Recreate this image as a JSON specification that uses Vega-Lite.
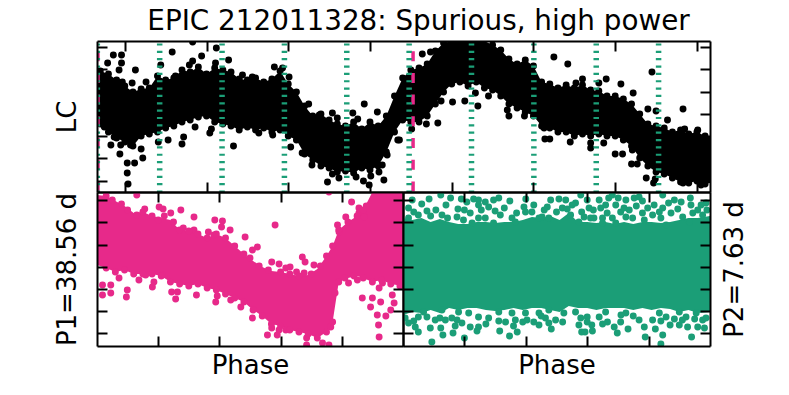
{"$schema":"https://vega.github.io/schema/vega-lite/v6.json","padding":{"left":53,"top":8,"right":40,"bottom":10},"spacing":0,"bounds":"flush",
"config":{"view":{"stroke":null},"axis":{"domain":true,"domainColor":"black","domainWidth":2,"ticks":true,"tickColor":"black","tickWidth":2,"tickSize":-10,"labels":false,"grid":false,"titleFont":"DejaVu Sans","titleFontSize":26,"titleFontWeight":"normal","titleColor":"black"}},
"datasets":{
"pink_transits":[{"t":6.72},{"t":45.27}],
"green_transits":[{"t":6.64},{"t":14.27},{"t":21.9},{"t":29.53},{"t":37.16},{"t":44.79},{"t":52.42},{"t":60.05},{"t":67.68},{"t":75.31}],
"lc_band":[{"t":6.6,"hi":122,"lo":70},{"t":7,"hi":121,"lo":68},{"t":8,"hi":118,"lo":60},{"t":9,"hi":112,"lo":54},{"t":10,"hi":106,"lo":50},{"t":11,"hi":100,"lo":46},{"t":12,"hi":103,"lo":56},{"t":13,"hi":104,"lo":58},{"t":14,"hi":116,"lo":60},{"t":15,"hi":112,"lo":64},{"t":16,"hi":114,"lo":66},{"t":17,"hi":122,"lo":70},{"t":18,"hi":120,"lo":72},{"t":19,"hi":125,"lo":75},{"t":20,"hi":118,"lo":76},{"t":21,"hi":124,"lo":70},{"t":22,"hi":122,"lo":68},{"t":23,"hi":120,"lo":66},{"t":24,"hi":113,"lo":62},{"t":25,"hi":112,"lo":65},{"t":26,"hi":114,"lo":62},{"t":27,"hi":110,"lo":64},{"t":28,"hi":113,"lo":60},{"t":29,"hi":121,"lo":62},{"t":30,"hi":108,"lo":56},{"t":31,"hi":100,"lo":52},{"t":32,"hi":86,"lo":38},{"t":33,"hi":76,"lo":32},{"t":34,"hi":78,"lo":26},{"t":35,"hi":72,"lo":24},{"t":36,"hi":68,"lo":20},{"t":37,"hi":66,"lo":21},{"t":38,"hi":70,"lo":19},{"t":39,"hi":63,"lo":24},{"t":40,"hi":70,"lo":22},{"t":41,"hi":66,"lo":26},{"t":42,"hi":76,"lo":40},{"t":43,"hi":96,"lo":60},{"t":44,"hi":114,"lo":72},{"t":45,"hi":122,"lo":70},{"t":46,"hi":124,"lo":70},{"t":47,"hi":128,"lo":76},{"t":48,"hi":141,"lo":88},{"t":49,"hi":149,"lo":100},{"t":50,"hi":151,"lo":108},{"t":51,"hi":151,"lo":110},{"t":52,"hi":151,"lo":106},{"t":53,"hi":151,"lo":110},{"t":54,"hi":151,"lo":104},{"t":55,"hi":147,"lo":102},{"t":56,"hi":142,"lo":96},{"t":57,"hi":133,"lo":88},{"t":58,"hi":128,"lo":84},{"t":59,"hi":132,"lo":80},{"t":60,"hi":126,"lo":76},{"t":61,"hi":110,"lo":66},{"t":62,"hi":108,"lo":64},{"t":63,"hi":104,"lo":60},{"t":64,"hi":107,"lo":60},{"t":65,"hi":104,"lo":56},{"t":66,"hi":107,"lo":58},{"t":67,"hi":102,"lo":56},{"t":68,"hi":101,"lo":58},{"t":69,"hi":96,"lo":56},{"t":70,"hi":96,"lo":56},{"t":71,"hi":93,"lo":52},{"t":72,"hi":88,"lo":46},{"t":73,"hi":78,"lo":34},{"t":74,"hi":68,"lo":26},{"t":75,"hi":66,"lo":20},{"t":76,"hi":64,"lo":18},{"t":77,"hi":60,"lo":14},{"t":78,"hi":62,"lo":10},{"t":79,"hi":58,"lo":9},{"t":80,"hi":60,"lo":11},{"t":81,"hi":56,"lo":8},{"t":81.6,"hi":55,"lo":9}],
"lc":[{"t":18.3,"f":150},{"t":21.2,"f":144},{"t":15.8,"f":140},{"t":8.6,"f":137},{"t":9.6,"f":137},{"t":19.4,"f":136},{"t":7.9,"f":129},{"t":9.6,"f":129},{"t":11.3,"f":122},{"t":9.3,"f":122},{"t":18.3,"f":131},{"t":14.4,"f":127},{"t":28.3,"f":125},{"t":22.7,"f":132},{"t":21.1,"f":129},{"t":17.9,"f":127},{"t":29.3,"f":124},{"t":30.1,"f":115},{"t":25.6,"f":115},{"t":24.4,"f":117},{"t":10.9,"f":109},{"t":12.6,"f":110},{"t":9.7,"f":110},{"t":16.2,"f":116},{"t":32.5,"f":88},{"t":39.3,"f":88},{"t":35.4,"f":79},{"t":37.9,"f":79},{"t":40.9,"f":80},{"t":38.5,"f":73},{"t":36,"f":74},{"t":33.8,"f":77},{"t":43.4,"f":52},{"t":23.3,"f":46},{"t":8.3,"f":47},{"t":17,"f":48},{"t":17.2,"f":55},{"t":18.6,"f":65},{"t":20.4,"f":59},{"t":20.6,"f":63},{"t":26.4,"f":59},{"t":28.1,"f":57},{"t":30.1,"f":58},{"t":30.3,"f":45},{"t":31.7,"f":39},{"t":32.9,"f":27},{"t":34.8,"f":10},{"t":36.2,"f":14},{"t":35.4,"f":18},{"t":38.3,"f":15},{"t":39.2,"f":11},{"t":39.9,"f":7},{"t":40.1,"f":16},{"t":41.7,"f":12},{"t":41.1,"f":20},{"t":10.4,"f":8},{"t":10.3,"f":19},{"t":11.2,"f":29},{"t":12.2,"f":34},{"t":9.4,"f":38},{"t":12,"f":43},{"t":14.1,"f":50},{"t":15.3,"f":52},{"t":7.5,"f":65},{"t":8.7,"f":55},{"t":9.5,"f":47},{"t":10.7,"f":47},{"t":10.3,"f":29},{"t":42.1,"f":37},{"t":41.5,"f":27},{"t":40.1,"f":34},{"t":37.5,"f":27},{"t":34.2,"f":29},
{"t":46.4,"f":138},{"t":47.4,"f":140},{"t":62.5,"f":135},{"t":64.2,"f":128},{"t":74.5,"f":120},{"t":66,"f":113},{"t":68.9,"f":113},{"t":70.7,"f":108},{"t":68,"f":109},{"t":65.2,"f":109},{"t":72.2,"f":99},{"t":78.3,"f":83},{"t":74,"f":83},{"t":75,"f":81},{"t":76.4,"f":72},{"t":48.7,"f":91},{"t":50.1,"f":90},{"t":51.6,"f":91},{"t":53.2,"f":86},{"t":48.3,"f":69},{"t":46.9,"f":68},{"t":45.1,"f":63},{"t":56.8,"f":82},{"t":57,"f":76},{"t":58.9,"f":76},{"t":61.3,"f":64},{"t":61.4,"f":53},{"t":62,"f":53},{"t":64.5,"f":50},{"t":67,"f":49},{"t":67,"f":44},{"t":68.6,"f":49},{"t":70,"f":38},{"t":70.9,"f":38},{"t":72.1,"f":42},{"t":72,"f":28},{"t":72.7,"f":28},{"t":73.8,"f":14},{"t":74.7,"f":9},{"t":74.9,"f":13},{"t":78.3,"f":9},{"t":80.5,"f":7},{"t":78.5,"f":63},{"t":80.1,"f":62},{"t":72.1,"f":49},{"t":54.5,"f":96},{"t":52.9,"f":99},{"t":43.6,"f":52},
{"t":7,"f":121},{"t":8,"f":118},{"t":9,"f":112},{"t":10,"f":106},{"t":11,"f":100},{"t":12,"f":103},{"t":13,"f":104},{"t":14,"f":116},{"t":15,"f":112},{"t":16,"f":114},{"t":17,"f":122},{"t":18,"f":120},{"t":19,"f":125},{"t":20,"f":118},{"t":21,"f":124},{"t":22,"f":122},{"t":23,"f":120},{"t":24,"f":113},{"t":25,"f":112},{"t":26,"f":114},{"t":27,"f":110},{"t":28,"f":113},{"t":29,"f":121},{"t":30,"f":108},{"t":31,"f":100},{"t":32,"f":86},{"t":33,"f":76},{"t":34,"f":78},{"t":35,"f":72},{"t":36,"f":68},{"t":37,"f":66},{"t":38,"f":70},{"t":39,"f":63},{"t":40,"f":70},{"t":41,"f":66},{"t":42,"f":76},{"t":43,"f":96},{"t":44,"f":114},{"t":45,"f":122},{"t":46,"f":124},{"t":47,"f":128},{"t":48,"f":141},{"t":49,"f":149},{"t":55,"f":147},{"t":56,"f":142},{"t":57,"f":133},{"t":58,"f":128},{"t":59,"f":132},{"t":60,"f":126},{"t":61,"f":110},{"t":62,"f":108},{"t":63,"f":104},{"t":64,"f":107},{"t":65,"f":104},{"t":66,"f":107},{"t":67,"f":102},{"t":68,"f":101},{"t":69,"f":96},{"t":70,"f":96},{"t":71,"f":93},{"t":72,"f":88},{"t":73,"f":78},{"t":74,"f":68},{"t":75,"f":66},{"t":76,"f":64},{"t":77,"f":60},{"t":78,"f":62},{"t":79,"f":58},{"t":80,"f":60},{"t":81,"f":56},
{"t":7,"f":68},{"t":8,"f":60},{"t":9,"f":54},{"t":10,"f":50},{"t":11,"f":46},{"t":12,"f":56},{"t":13,"f":58},{"t":14,"f":60},{"t":15,"f":64},{"t":16,"f":66},{"t":17,"f":70},{"t":18,"f":72},{"t":19,"f":75},{"t":20,"f":76},{"t":21,"f":70},{"t":22,"f":68},{"t":23,"f":66},{"t":24,"f":62},{"t":25,"f":65},{"t":26,"f":62},{"t":27,"f":64},{"t":28,"f":60},{"t":29,"f":62},{"t":30,"f":56},{"t":31,"f":52},{"t":32,"f":38},{"t":33,"f":32},{"t":34,"f":26},{"t":35,"f":24},{"t":36,"f":20},{"t":37,"f":21},{"t":38,"f":19},{"t":39,"f":24},{"t":40,"f":22},{"t":41,"f":26},{"t":42,"f":40},{"t":43,"f":60},{"t":44,"f":72},{"t":45,"f":70},{"t":46,"f":70},{"t":47,"f":76},{"t":48,"f":88},{"t":49,"f":100},{"t":50,"f":108},{"t":51,"f":110},{"t":52,"f":106},{"t":53,"f":110},{"t":54,"f":104},{"t":55,"f":102},{"t":56,"f":96},{"t":57,"f":88},{"t":58,"f":84},{"t":59,"f":80},{"t":60,"f":76},{"t":61,"f":66},{"t":62,"f":64},{"t":63,"f":60},{"t":64,"f":60},{"t":65,"f":56},{"t":66,"f":58},{"t":67,"f":56},{"t":68,"f":58},{"t":69,"f":56},{"t":70,"f":56},{"t":71,"f":52},{"t":72,"f":46},{"t":73,"f":34},{"t":74,"f":26},{"t":75,"f":20},{"t":76,"f":18},{"t":77,"f":14},{"t":78,"f":10},{"t":79,"f":9},{"t":80,"f":11},{"t":81,"f":8}],
"p1_band":[{"p":0,"hi":151,"lo":81},{"p":0.03,"hi":150,"lo":78},{"p":0.06,"hi":145,"lo":74},{"p":0.09,"hi":140,"lo":76},{"p":0.12,"hi":133,"lo":72},{"p":0.15,"hi":134,"lo":72},{"p":0.18,"hi":130,"lo":72},{"p":0.21,"hi":128,"lo":70},{"p":0.24,"hi":126,"lo":64},{"p":0.27,"hi":116,"lo":62},{"p":0.3,"hi":115,"lo":60},{"p":0.33,"hi":112,"lo":62},{"p":0.36,"hi":108,"lo":58},{"p":0.39,"hi":112,"lo":56},{"p":0.42,"hi":108,"lo":52},{"p":0.45,"hi":100,"lo":48},{"p":0.48,"hi":92,"lo":44},{"p":0.51,"hi":85,"lo":36},{"p":0.54,"hi":79,"lo":30},{"p":0.57,"hi":75,"lo":22},{"p":0.6,"hi":74,"lo":20},{"p":0.63,"hi":72,"lo":16},{"p":0.66,"hi":70,"lo":14},{"p":0.69,"hi":71,"lo":12},{"p":0.72,"hi":77,"lo":8},{"p":0.75,"hi":90,"lo":14},{"p":0.77,"hi":100,"lo":24},{"p":0.79,"hi":116,"lo":64},{"p":0.82,"hi":124,"lo":68},{"p":0.85,"hi":130,"lo":70},{"p":0.87,"hi":136,"lo":68},{"p":0.9,"hi":154,"lo":64},{"p":0.93,"hi":154,"lo":66},{"p":0.96,"hi":154,"lo":62},{"p":1,"hi":154,"lo":60}],
"p1":[{"p":0.13,"f":151},{"p":0.156,"f":137},{"p":0.203,"f":139},{"p":0.216,"f":137},{"p":0.274,"f":136},{"p":0.241,"f":133},{"p":0.317,"f":129},{"p":0.385,"f":126},{"p":0.41,"f":125},{"p":0.407,"f":119},{"p":0.435,"f":116},{"p":0.282,"f":118},{"p":0.317,"f":116},{"p":0.364,"f":114},{"p":0.382,"f":111},{"p":0.484,"f":109},{"p":0.524,"f":99},{"p":0.508,"f":96},{"p":0.582,"f":121},{"p":0.671,"f":89},{"p":0.68,"f":84},{"p":0.571,"f":84},{"p":0.595,"f":82},{"p":0.631,"f":79},{"p":0.617,"f":78},{"p":0.652,"f":74},{"p":0.709,"f":81},{"p":0.677,"f":73},{"p":0.758,"f":154},{"p":0.832,"f":144},{"p":0.856,"f":138},{"p":0.88,"f":140},{"p":0.856,"f":133},{"p":0.873,"f":129},{"p":0.813,"f":129},{"p":0.786,"f":121},{"p":0.791,"f":114},{"p":0.018,"f":61},{"p":0.018,"f":51},{"p":0.045,"f":53},{"p":0.045,"f":61},{"p":0.072,"f":68},{"p":0.099,"f":56},{"p":0.096,"f":49},{"p":0.137,"f":66},{"p":0.181,"f":59},{"p":0.186,"f":64},{"p":0.159,"f":71},{"p":0.214,"f":71},{"p":0.244,"f":54},{"p":0.263,"f":54},{"p":0.257,"f":47},{"p":0.325,"f":51},{"p":0.393,"f":50},{"p":0.388,"f":44},{"p":0.437,"f":46},{"p":0.47,"f":39},{"p":0.508,"f":28},{"p":0.557,"f":11},{"p":0.571,"f":18},{"p":0.589,"f":11},{"p":0.595,"f":16},{"p":0.617,"f":16},{"p":0.685,"f":8},{"p":0.685,"f":1},{"p":0.737,"f":3},{"p":0.758,"f":1},{"p":0.764,"f":19},{"p":0.778,"f":53},{"p":0.822,"f":63},{"p":0.851,"f":66},{"p":0.867,"f":48},{"p":0.894,"f":39},{"p":0.922,"f":9},{"p":0.92,"f":21},{"p":0.916,"f":31},{"p":0.944,"f":30},{"p":0.96,"f":36},{"p":0.971,"f":43},{"p":0.9,"f":48},{"p":0.927,"f":44},{"p":0.922,"f":58},{"p":0.965,"f":51},{"p":0.933,"f":63},
{"p":0.03,"f":150},{"p":0.05,"f":146},{"p":0.08,"f":142},{"p":0.1,"f":136},{"p":0.13,"f":131},{"p":0.15,"f":134},{"p":0.18,"f":130},{"p":0.2,"f":126},{"p":0.22,"f":130},{"p":0.25,"f":124},{"p":0.27,"f":116},{"p":0.3,"f":115},{"p":0.33,"f":112},{"p":0.36,"f":108},{"p":0.39,"f":112},{"p":0.42,"f":108},{"p":0.45,"f":100},{"p":0.48,"f":92},{"p":0.5,"f":88},{"p":0.53,"f":80},{"p":0.56,"f":76},{"p":0.6,"f":74},{"p":0.63,"f":72},{"p":0.66,"f":70},{"p":0.7,"f":72},{"p":0.73,"f":80},{"p":0.75,"f":90},{"p":0.77,"f":100},{"p":0.79,"f":116},{"p":0.82,"f":124},{"p":0.85,"f":130},{"p":0.87,"f":136},
{"p":0.03,"f":78},{"p":0.06,"f":74},{"p":0.09,"f":76},{"p":0.12,"f":72},{"p":0.15,"f":72},{"p":0.18,"f":72},{"p":0.21,"f":70},{"p":0.24,"f":64},{"p":0.27,"f":62},{"p":0.3,"f":60},{"p":0.33,"f":62},{"p":0.36,"f":58},{"p":0.39,"f":56},{"p":0.42,"f":52},{"p":0.45,"f":48},{"p":0.48,"f":44},{"p":0.51,"f":36},{"p":0.54,"f":30},{"p":0.57,"f":22},{"p":0.6,"f":20},{"p":0.63,"f":16},{"p":0.66,"f":14},{"p":0.69,"f":12},{"p":0.72,"f":8},{"p":0.75,"f":14},{"p":0.77,"f":24},{"p":0.79,"f":64},{"p":0.81,"f":68},{"p":0.84,"f":70},{"p":0.87,"f":68},{"p":0.9,"f":64},{"p":0.93,"f":66},{"p":0.96,"f":62},{"p":0.99,"f":60}],
"p2_band":[{"p":0,"hi":128,"lo":31},{"p":0.03,"hi":126,"lo":34},{"p":0.06,"hi":128,"lo":33},{"p":0.09,"hi":124,"lo":36},{"p":0.12,"hi":127,"lo":33},{"p":0.15,"hi":124,"lo":38},{"p":0.18,"hi":122,"lo":36},{"p":0.21,"hi":122,"lo":38},{"p":0.24,"hi":124,"lo":38},{"p":0.27,"hi":124,"lo":36},{"p":0.3,"hi":123,"lo":35},{"p":0.33,"hi":124,"lo":36},{"p":0.36,"hi":124,"lo":38},{"p":0.39,"hi":126,"lo":36},{"p":0.42,"hi":129,"lo":38},{"p":0.45,"hi":128,"lo":38},{"p":0.48,"hi":130,"lo":36},{"p":0.51,"hi":126,"lo":34},{"p":0.54,"hi":133,"lo":40},{"p":0.57,"hi":124,"lo":38},{"p":0.6,"hi":124,"lo":38},{"p":0.63,"hi":123,"lo":36},{"p":0.66,"hi":124,"lo":38},{"p":0.69,"hi":122,"lo":38},{"p":0.72,"hi":124,"lo":38},{"p":0.75,"hi":122,"lo":36},{"p":0.78,"hi":124,"lo":38},{"p":0.81,"hi":124,"lo":36},{"p":0.84,"hi":123,"lo":38},{"p":0.87,"hi":124,"lo":37},{"p":0.9,"hi":126,"lo":34},{"p":0.93,"hi":128,"lo":36},{"p":0.96,"hi":128,"lo":33},{"p":1,"hi":130,"lo":34}],
"p2":[{"p":0.085,"f":147},{"p":0.061,"f":142},{"p":0.123,"f":151},{"p":0.179,"f":137},{"p":0.107,"f":136},{"p":0.078,"f":135},{"p":0.197,"f":126},{"p":0.176,"f":129},{"p":0.246,"f":146},{"p":0.312,"f":148},{"p":0.348,"f":145},{"p":0.255,"f":136},{"p":0.279,"f":139},{"p":0.295,"f":146},{"p":0.268,"f":128},{"p":0.208,"f":144},{"p":0.219,"f":133},{"p":0.246,"f":141},{"p":0.394,"f":139},{"p":0.426,"f":141},{"p":0.399,"f":134},{"p":0.481,"f":146},{"p":0.508,"f":147},{"p":0.53,"f":146},{"p":0.562,"f":143},{"p":0.582,"f":134},{"p":0.551,"f":141},{"p":0.59,"f":129},{"p":0.579,"f":151},{"p":0.622,"f":128},{"p":0.65,"f":128},{"p":0.682,"f":151},{"p":0.701,"f":148},{"p":0.639,"f":146},{"p":0.66,"f":141},{"p":0.726,"f":146},{"p":0.753,"f":148},{"p":0.769,"f":149},{"p":0.709,"f":134},{"p":0.737,"f":136},{"p":0.682,"f":128},{"p":0.693,"f":141},{"p":0.797,"f":138},{"p":0.818,"f":141},{"p":0.846,"f":151},{"p":0.884,"f":146},{"p":0.906,"f":144},{"p":0.936,"f":148},{"p":0.971,"f":141},{"p":0.938,"f":141},{"p":0.813,"f":131},{"p":0.84,"f":128},{"p":0.873,"f":133},{"p":0.911,"f":129},{"p":0.976,"f":131},{"p":0.987,"f":143},{"p":0.78,"f":133},{"p":0.748,"f":128},{"p":0.726,"f":129},{"p":0.443,"f":128},{"p":0.355,"f":128},{"p":0.317,"f":131},{"p":0.246,"f":128},{"p":0.127,"f":131},{"p":0.05,"f":131},{"p":0.018,"f":138},{"p":0.018,"f":128},{"p":0.475,"f":128},{"p":0.519,"f":138},{"p":0.606,"f":138},{"p":0.573,"f":124},{"p":0.611,"f":128},{"p":0.644,"f":138},{"p":0.786,"f":126},{"p":0.846,"f":138},{"p":0.944,"f":133},{"p":0.268,"f":144},{"p":0.225,"f":123},{"p":0.295,"f":123},{"p":0.366,"f":124},{"p":0.453,"f":129},{"p":0.546,"f":131},{"p":0.65,"f":123},{"p":0.693,"f":123},{"p":0.857,"f":121},{"p":0.933,"f":124},
{"p":0.035,"f":134},{"p":0.09,"f":130},{"p":0.145,"f":128},{"p":0.2,"f":136},{"p":0.23,"f":147},{"p":0.3,"f":135},{"p":0.33,"f":138},{"p":0.37,"f":133},{"p":0.42,"f":134},{"p":0.46,"f":136},{"p":0.5,"f":134},{"p":0.535,"f":137},{"p":0.6,"f":146},{"p":0.62,"f":136},{"p":0.665,"f":133},{"p":0.72,"f":138},{"p":0.76,"f":140},{"p":0.78,"f":145},{"p":0.835,"f":134},{"p":0.865,"f":143},{"p":0.895,"f":137},{"p":0.96,"f":136},{"p":0.99,"f":136},{"p":0.14,"f":141},{"p":0.19,"f":147},{"p":0.155,"f":148},{"p":0.03,"f":146},{"p":0.4,"f":147},{"p":0.47,"f":139},{"p":0.67,"f":148},
{"p":0.094,"f":4},{"p":0.13,"f":11},{"p":0.163,"f":13},{"p":0.2,"f":8},{"p":0.246,"f":19},{"p":0.241,"f":15},{"p":0.315,"f":15},{"p":0.347,"f":10},{"p":0.372,"f":14},{"p":0.483,"f":17},{"p":0.443,"f":21},{"p":0.573,"f":21},{"p":0.582,"f":14},{"p":0.593,"f":14},{"p":0.615,"f":21},{"p":0.617,"f":15},{"p":0.698,"f":13},{"p":0.688,"f":19},{"p":0.733,"f":17},{"p":0.789,"f":9},{"p":0.822,"f":17},{"p":0.846,"f":11},{"p":0.94,"f":9},{"p":0.9,"f":21},{"p":0.927,"f":19},{"p":0.982,"f":18},{"p":0.96,"f":19},{"p":0.84,"f":2},{"p":0.05,"f":14},{"p":0.04,"f":19},{"p":0.018,"f":23},{"p":0.089,"f":18},{"p":0.123,"f":18},{"p":0.219,"f":19},{"p":0.192,"f":23},{"p":0.176,"f":26},{"p":0.138,"f":26},{"p":0.105,"f":26},{"p":0.05,"f":29},{"p":0.078,"f":29},{"p":0.159,"f":28},{"p":0.312,"f":25},{"p":0.334,"f":24},{"p":0.366,"f":26},{"p":0.404,"f":26},{"p":0.426,"f":24},{"p":0.464,"f":28},{"p":0.475,"f":23},{"p":0.497,"f":26},{"p":0.524,"f":33},{"p":0.579,"f":28},{"p":0.6,"f":29},{"p":0.639,"f":29},{"p":0.666,"f":24},{"p":0.709,"f":24},{"p":0.769,"f":26},{"p":0.786,"f":19},{"p":0.813,"f":26},{"p":0.857,"f":29},{"p":0.884,"f":27},{"p":0.922,"f":29},{"p":0.976,"f":26},{"p":0.987,"f":28},{"p":0.007,"f":28},{"p":0.246,"f":29},{"p":0.214,"f":33},{"p":0.279,"f":28},{"p":0.355,"f":33},{"p":0.399,"f":33},{"p":0.443,"f":33},{"p":0.562,"f":34},{"p":0.66,"f":34},{"p":0.726,"f":33},{"p":0.835,"f":33},{"p":0.9,"f":34},{"p":0.955,"f":33},{"p":0.067,"f":34},{"p":0.127,"f":36},{"p":0.181,"f":34},{"p":0.312,"f":34},{"p":0.475,"f":36},
{"p":0.035,"f":25},{"p":0.12,"f":28},{"p":0.17,"f":20},{"p":0.27,"f":22},{"p":0.36,"f":20},{"p":0.39,"f":24},{"p":0.45,"f":30},{"p":0.52,"f":24},{"p":0.6,"f":24},{"p":0.65,"f":22},{"p":0.71,"f":31},{"p":0.75,"f":30},{"p":0.84,"f":25},{"p":0.87,"f":21},{"p":0.91,"f":26},{"p":0.95,"f":27}]
},
"vconcat":[
{"width":613,"height":151,
"title":{"text":"EPIC 212011328: Spurious, high power","font":"DejaVu Sans","fontSize":27.8,"fontWeight":"normal","color":"black","anchor":"middle","frame":"group","dx":15,"offset":4},
"resolve":{"axis":{"x":"independent","y":"independent"}},
"layer":[
{"data":{"name":"lc_band"},"mark":{"type":"area","color":"black","clip":true},"encoding":{"x":{"field":"t","type":"quantitative","scale":{"domain":[6.6,81.6],"nice":false,"zero":false},"axis":null},"y":{"field":"lo","type":"quantitative","scale":{"domain":[0,151],"nice":false},"axis":null},"y2":{"field":"hi"}}},
{"data":{"name":"lc"},"mark":{"type":"circle","color":"black","size":48,"opacity":1,"clip":true},"encoding":{"x":{"field":"t","type":"quantitative","scale":{"domain":[6.6,81.6],"nice":false,"zero":false},"axis":null},"y":{"field":"f","type":"quantitative","scale":{"domain":[0,151],"nice":false},"axis":null}}},
{"data":{"name":"pink_transits"},"mark":{"type":"rule","color":"#e7298a","strokeWidth":3.5,"strokeDash":[10,11.7],"strokeDashOffset":11.5,"clip":true},"encoding":{"x":{"field":"t","type":"quantitative","scale":{"domain":[6.6,81.6],"nice":false,"zero":false},"axis":null}}},
{"data":{"name":"green_transits"},"mark":{"type":"rule","color":"#1b9e77","strokeWidth":5.5,"strokeDash":[2.2,5.15],"strokeDashOffset":4.95,"clip":true},"encoding":{"x":{"field":"t","type":"quantitative","scale":{"domain":[6.6,81.6],"nice":false,"zero":false},"axis":null}}},
{"data":{"name":"lc_band"},"mark":{"type":"circle","opacity":0},"encoding":{"x":{"field":"t","type":"quantitative","scale":{"domain":[6.6,81.6],"nice":false,"zero":false},"axis":{"orient":"bottom","zindex":1,"title":null,"values":[10,20,30,40,50,60,70,80]}},"y":{"field":"lo","type":"quantitative","scale":{"domain":[0,151],"nice":false},"axis":{"orient":"left","zindex":1,"title":"LC","titlePadding":16,"values":[11.3,33.6,55.9,78.2,100.5,122.8,145.1]}}}},
{"data":{"name":"lc_band"},"mark":{"type":"circle","opacity":0},"encoding":{"x":{"field":"t","type":"quantitative","scale":{"domain":[6.6,81.6],"nice":false,"zero":false},"axis":{"orient":"top","zindex":1,"title":null,"values":[10,20,30,40,50,60,70,80]}},"y":{"field":"lo","type":"quantitative","scale":{"domain":[0,151],"nice":false},"axis":{"orient":"right","zindex":1,"title":null,"values":[11.3,33.6,55.9,78.2,100.5,122.8,145.1]}}}}
]},
{"spacing":0,"bounds":"flush","hconcat":[
{"width":306,"height":154,"resolve":{"axis":{"x":"independent","y":"independent"}},"layer":[
{"data":{"name":"p1_band"},"mark":{"type":"area","color":"#e7298a","clip":true},"encoding":{"x":{"field":"p","type":"quantitative","scale":{"domain":[0,1],"nice":false},"axis":null},"y":{"field":"lo","type":"quantitative","scale":{"domain":[0,154],"nice":false},"axis":null},"y2":{"field":"hi"}}},
{"data":{"name":"p1"},"mark":{"type":"circle","color":"#e7298a","size":48,"opacity":1,"clip":true},"encoding":{"x":{"field":"p","type":"quantitative","scale":{"domain":[0,1],"nice":false},"axis":null},"y":{"field":"f","type":"quantitative","scale":{"domain":[0,154],"nice":false},"axis":null}}},
{"data":{"name":"p1_band"},"mark":{"type":"circle","opacity":0},"encoding":{"x":{"field":"p","type":"quantitative","scale":{"domain":[0,1],"nice":false},"axis":{"orient":"bottom","zindex":1,"title":"Phase","titlePadding":5,"values":[0.2,0.4,0.6,0.8]}},"y":{"field":"lo","type":"quantitative","scale":{"domain":[0,154],"nice":false},"axis":{"orient":"left","zindex":1,"title":"P1=38.56 d","titlePadding":16,"values":[12.7,34.9,57.1,79.3,101.5,123.7,145.9]}}}},
{"data":{"name":"p1_band"},"mark":{"type":"circle","opacity":0},"encoding":{"x":{"field":"p","type":"quantitative","scale":{"domain":[0,1],"nice":false},"axis":{"orient":"top","zindex":1,"title":null,"values":[0.2,0.4,0.6,0.8]}},"y":{"field":"lo","type":"quantitative","scale":{"domain":[0,154],"nice":false},"axis":{"orient":"right","zindex":1,"title":null,"values":[12.7,34.9,57.1,79.3,101.5,123.7,145.9]}}}}
]},
{"width":307,"height":154,"resolve":{"axis":{"x":"independent","y":"independent"}},"layer":[
{"data":{"name":"p2_band"},"mark":{"type":"area","color":"#1b9e77","clip":true},"encoding":{"x":{"field":"p","type":"quantitative","scale":{"domain":[0,1],"nice":false},"axis":null},"y":{"field":"lo","type":"quantitative","scale":{"domain":[0,154],"nice":false},"axis":null},"y2":{"field":"hi"}}},
{"data":{"name":"p2"},"mark":{"type":"circle","color":"#1b9e77","size":48,"opacity":1,"clip":true},"encoding":{"x":{"field":"p","type":"quantitative","scale":{"domain":[0,1],"nice":false},"axis":null},"y":{"field":"f","type":"quantitative","scale":{"domain":[0,154],"nice":false},"axis":null}}},
{"data":{"name":"p2_band"},"mark":{"type":"circle","opacity":0},"encoding":{"x":{"field":"p","type":"quantitative","scale":{"domain":[0,1],"nice":false},"axis":{"orient":"bottom","zindex":1,"title":"Phase","titlePadding":5,"values":[0.2,0.4,0.6,0.8]}},"y":{"field":"lo","type":"quantitative","scale":{"domain":[0,154],"nice":false},"axis":{"orient":"left","zindex":1,"title":null,"values":[12.7,34.9,57.1,79.3,101.5,123.7,145.9]}}}},
{"data":{"name":"p2_band"},"mark":{"type":"circle","opacity":0},"encoding":{"x":{"field":"p","type":"quantitative","scale":{"domain":[0,1],"nice":false},"axis":{"orient":"top","zindex":1,"title":null,"values":[0.2,0.4,0.6,0.8]}},"y":{"field":"lo","type":"quantitative","scale":{"domain":[0,154],"nice":false},"axis":{"orient":"right","zindex":1,"title":"P2=7.63 d","titleAngle":270,"titleBaseline":"top","titlePadding":10,"values":[12.7,34.9,57.1,79.3,101.5,123.7,145.9]}}}}
]}
]}
]}
